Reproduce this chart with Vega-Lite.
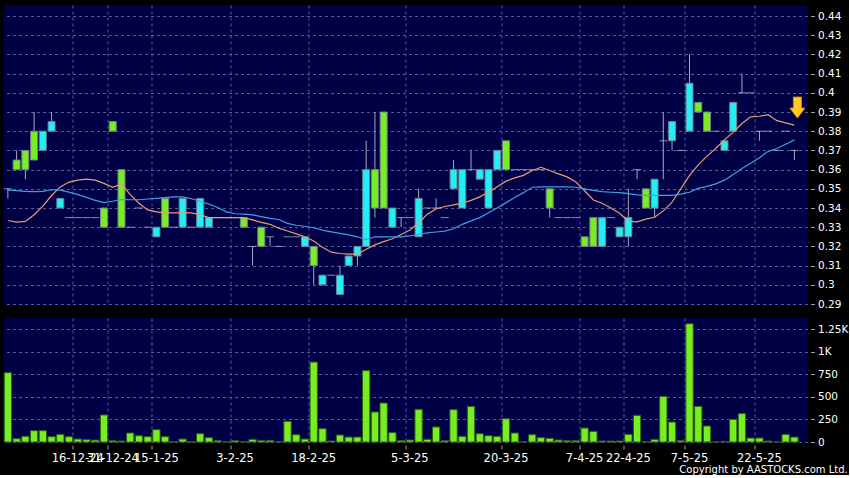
{
  "$schema": "https://vega.github.io/schema/vega-lite/v6.json",
  "background": "#000000",
  "padding": {"left": 3.5, "top": 5, "right": 0, "bottom": 0},
  "spacing": 8,
  "title": {"text": "Copyright by AASTOCKS.com Ltd.", "orient": "bottom", "anchor": "end", "frame": "bounds", "color": "#ffffff", "font": "DejaVu Sans", "fontSize": 10, "fontWeight": "normal", "offset": 1, "baseline": "top"},
  "datasets": {
    "k": [
      {"i":0,"o":0.35,"h":0.35,"l":0.345,"c":0.35,"v":770,"m1":0.3335,"m2":0.3493},
      {"i":1,"o":0.365,"h":0.37,"l":0.36,"c":0.36,"v":37,"m1":0.3326,"m2":0.349},
      {"i":2,"o":0.37,"h":0.37,"l":0.355,"c":0.36,"v":63,"m1":0.333,"m2":0.3487},
      {"i":3,"o":0.38,"h":0.39,"l":0.365,"c":0.365,"v":126,"m1":0.3365,"m2":0.3485},
      {"i":4,"o":0.37,"h":0.38,"l":0.37,"c":0.38,"v":126,"m1":0.341,"m2":0.3487},
      {"i":5,"o":0.38,"h":0.39,"l":0.38,"c":0.385,"v":59,"m1":0.3465,"m2":0.3495},
      {"i":6,"o":0.34,"h":0.345,"l":0.34,"c":0.345,"v":85,"m1":0.351,"m2":0.3493},
      {"i":7,"o":0.335,"h":0.335,"l":0.335,"c":0.335,"v":59,"m1":0.3535,"m2":0.3483},
      {"i":8,"o":0.335,"h":0.335,"l":0.335,"c":0.335,"v":33,"m1":0.3545,"m2":0.347},
      {"i":9,"o":0.335,"h":0.335,"l":0.335,"c":0.335,"v":26,"m1":0.355,"m2":0.3455},
      {"i":10,"o":0.335,"h":0.335,"l":0.335,"c":0.335,"v":22,"m1":0.3545,"m2":0.344},
      {"i":11,"o":0.34,"h":0.34,"l":0.33,"c":0.33,"v":300,"m1":0.3528,"m2":0.3428},
      {"i":12,"o":0.385,"h":0.385,"l":0.38,"c":0.38,"v":15,"m1":0.3508,"m2":0.3435},
      {"i":13,"o":0.36,"h":0.36,"l":0.33,"c":0.33,"v":11,"m1":0.3525,"m2":0.3445},
      {"i":14,"o":0.33,"h":0.33,"l":0.33,"c":0.33,"v":100,"m1":0.347,"m2":0.3443},
      {"i":15,"o":0.34,"h":0.34,"l":0.34,"c":0.34,"v":70,"m1":0.3425,"m2":0.3443},
      {"i":16,"o":0.33,"h":0.33,"l":0.33,"c":0.33,"v":59,"m1":0.339,"m2":0.3447},
      {"i":17,"o":0.325,"h":0.33,"l":0.325,"c":0.33,"v":137,"m1":0.338,"m2":0.345},
      {"i":18,"o":0.345,"h":0.345,"l":0.33,"c":0.33,"v":59,"m1":0.3375,"m2":0.3454},
      {"i":19,"o":0.33,"h":0.33,"l":0.33,"c":0.33,"v":3,"m1":0.3375,"m2":0.3458},
      {"i":20,"o":0.33,"h":0.345,"l":0.33,"c":0.345,"v":33,"m1":0.3375,"m2":0.3458},
      {"i":21,"o":0.33,"h":0.33,"l":0.33,"c":0.33,"v":2,"m1":0.3375,"m2":0.3448},
      {"i":22,"o":0.33,"h":0.345,"l":0.33,"c":0.345,"v":92,"m1":0.3365,"m2":0.3435},
      {"i":23,"o":0.33,"h":0.335,"l":0.33,"c":0.335,"v":48,"m1":0.335,"m2":0.342},
      {"i":24,"o":0.335,"h":0.335,"l":0.335,"c":0.335,"v":15,"m1":0.335,"m2":0.3403},
      {"i":25,"o":0.335,"h":0.335,"l":0.335,"c":0.335,"v":3,"m1":0.335,"m2":0.338},
      {"i":26,"o":0.335,"h":0.335,"l":0.335,"c":0.335,"v":15,"m1":0.335,"m2":0.337},
      {"i":27,"o":0.335,"h":0.335,"l":0.33,"c":0.33,"v":2,"m1":0.335,"m2":0.3368},
      {"i":28,"o":0.32,"h":0.32,"l":0.31,"c":0.32,"v":30,"m1":0.3338,"m2":0.3364},
      {"i":29,"o":0.33,"h":0.33,"l":0.32,"c":0.32,"v":18,"m1":0.3325,"m2":0.3355},
      {"i":30,"o":0.325,"h":0.325,"l":0.32,"c":0.325,"v":18,"m1":0.3315,"m2":0.3346},
      {"i":31,"o":0.32,"h":0.32,"l":0.32,"c":0.32,"v":5,"m1":0.3295,"m2":0.334},
      {"i":32,"o":0.325,"h":0.325,"l":0.325,"c":0.325,"v":230,"m1":0.328,"m2":0.332},
      {"i":33,"o":0.325,"h":0.325,"l":0.325,"c":0.325,"v":81,"m1":0.3265,"m2":0.331},
      {"i":34,"o":0.32,"h":0.325,"l":0.32,"c":0.325,"v":33,"m1":0.325,"m2":0.3305},
      {"i":35,"o":0.32,"h":0.32,"l":0.30,"c":0.31,"v":888,"m1":0.3228,"m2":0.3297},
      {"i":36,"o":0.30,"h":0.305,"l":0.30,"c":0.305,"v":148,"m1":0.3195,"m2":0.3285},
      {"i":37,"o":0.305,"h":0.305,"l":0.305,"c":0.305,"v":11,"m1":0.317,"m2":0.3276},
      {"i":38,"o":0.295,"h":0.31,"l":0.295,"c":0.305,"v":78,"m1":0.3163,"m2":0.3268},
      {"i":39,"o":0.31,"h":0.315,"l":0.31,"c":0.315,"v":55,"m1":0.316,"m2":0.326},
      {"i":40,"o":0.315,"h":0.32,"l":0.31,"c":0.32,"v":55,"m1":0.316,"m2":0.325},
      {"i":41,"o":0.32,"h":0.375,"l":0.32,"c":0.36,"v":792,"m1":0.3185,"m2":0.3235},
      {"i":42,"o":0.36,"h":0.39,"l":0.335,"c":0.34,"v":333,"m1":0.3208,"m2":0.325},
      {"i":43,"o":0.39,"h":0.39,"l":0.34,"c":0.34,"v":433,"m1":0.3225,"m2":0.325},
      {"i":44,"o":0.33,"h":0.34,"l":0.33,"c":0.34,"v":104,"m1":0.324,"m2":0.325},
      {"i":45,"o":0.335,"h":0.335,"l":0.33,"c":0.335,"v":15,"m1":0.3262,"m2":0.325},
      {"i":46,"o":0.335,"h":0.335,"l":0.335,"c":0.335,"v":22,"m1":0.3285,"m2":0.3255},
      {"i":47,"o":0.325,"h":0.35,"l":0.325,"c":0.345,"v":363,"m1":0.3322,"m2":0.3262},
      {"i":48,"o":0.34,"h":0.34,"l":0.34,"c":0.34,"v":30,"m1":0.3368,"m2":0.327},
      {"i":49,"o":0.34,"h":0.345,"l":0.34,"c":0.34,"v":167,"m1":0.3395,"m2":0.3275},
      {"i":50,"o":0.335,"h":0.335,"l":0.335,"c":0.335,"v":15,"m1":0.3408,"m2":0.328},
      {"i":51,"o":0.35,"h":0.365,"l":0.35,"c":0.36,"v":359,"m1":0.3416,"m2":0.3292},
      {"i":52,"o":0.34,"h":0.36,"l":0.34,"c":0.36,"v":63,"m1":0.3425,"m2":0.3315},
      {"i":53,"o":0.36,"h":0.37,"l":0.36,"c":0.36,"v":396,"m1":0.344,"m2":0.3333},
      {"i":54,"o":0.355,"h":0.36,"l":0.355,"c":0.36,"v":92,"m1":0.3458,"m2":0.335},
      {"i":55,"o":0.34,"h":0.36,"l":0.34,"c":0.36,"v":70,"m1":0.3482,"m2":0.3375},
      {"i":56,"o":0.36,"h":0.37,"l":0.36,"c":0.37,"v":63,"m1":0.3511,"m2":0.34},
      {"i":57,"o":0.375,"h":0.375,"l":0.36,"c":0.36,"v":259,"m1":0.354,"m2":0.3428},
      {"i":58,"o":0.36,"h":0.36,"l":0.36,"c":0.36,"v":100,"m1":0.3557,"m2":0.3455},
      {"i":59,"o":0.36,"h":0.36,"l":0.36,"c":0.36,"v":3,"m1":0.357,"m2":0.348},
      {"i":60,"o":0.36,"h":0.36,"l":0.36,"c":0.36,"v":81,"m1":0.3595,"m2":0.3508},
      {"i":61,"o":0.36,"h":0.36,"l":0.36,"c":0.36,"v":48,"m1":0.3612,"m2":0.351},
      {"i":62,"o":0.35,"h":0.35,"l":0.335,"c":0.34,"v":41,"m1":0.3595,"m2":0.351},
      {"i":63,"o":0.335,"h":0.335,"l":0.335,"c":0.335,"v":22,"m1":0.3578,"m2":0.351},
      {"i":64,"o":0.335,"h":0.335,"l":0.335,"c":0.335,"v":15,"m1":0.3562,"m2":0.351},
      {"i":65,"o":0.335,"h":0.335,"l":0.335,"c":0.335,"v":15,"m1":0.3535,"m2":0.3508},
      {"i":66,"o":0.325,"h":0.325,"l":0.32,"c":0.32,"v":155,"m1":0.349,"m2":0.35},
      {"i":67,"o":0.335,"h":0.335,"l":0.32,"c":0.32,"v":118,"m1":0.3442,"m2":0.3492},
      {"i":68,"o":0.32,"h":0.335,"l":0.32,"c":0.335,"v":11,"m1":0.3425,"m2":0.3485},
      {"i":69,"o":0.335,"h":0.335,"l":0.335,"c":0.335,"v":11,"m1":0.34,"m2":0.3482},
      {"i":70,"o":0.325,"h":0.33,"l":0.325,"c":0.33,"v":11,"m1":0.3373,"m2":0.348},
      {"i":71,"o":0.325,"h":0.35,"l":0.32,"c":0.335,"v":85,"m1":0.3332,"m2":0.3475},
      {"i":72,"o":0.36,"h":0.36,"l":0.355,"c":0.36,"v":296,"m1":0.3328,"m2":0.3468},
      {"i":73,"o":0.35,"h":0.35,"l":0.34,"c":0.34,"v":3,"m1":0.3342,"m2":0.3466},
      {"i":74,"o":0.34,"h":0.355,"l":0.335,"c":0.355,"v":30,"m1":0.3352,"m2":0.3466},
      {"i":75,"o":0.375,"h":0.39,"l":0.355,"c":0.375,"v":507,"m1":0.3385,"m2":0.3466},
      {"i":76,"o":0.375,"h":0.385,"l":0.37,"c":0.385,"v":222,"m1":0.343,"m2":0.3466},
      {"i":77,"o":0.37,"h":0.37,"l":0.37,"c":0.37,"v":15,"m1":0.35,"m2":0.3472},
      {"i":78,"o":0.38,"h":0.42,"l":0.38,"c":0.405,"v":1313,"m1":0.357,"m2":0.3482},
      {"i":79,"o":0.395,"h":0.395,"l":0.39,"c":0.39,"v":396,"m1":0.3625,"m2":0.3502},
      {"i":80,"o":0.39,"h":0.39,"l":0.38,"c":0.38,"v":178,"m1":0.367,"m2":0.3513},
      {"i":81,"o":0.38,"h":0.38,"l":0.38,"c":0.38,"v":0,"m1":0.371,"m2":0.3526},
      {"i":82,"o":0.37,"h":0.375,"l":0.37,"c":0.375,"v":7,"m1":0.3755,"m2":0.3545},
      {"i":83,"o":0.38,"h":0.395,"l":0.38,"c":0.395,"v":252,"m1":0.3795,"m2":0.3575},
      {"i":84,"o":0.40,"h":0.41,"l":0.40,"c":0.40,"v":315,"m1":0.384,"m2":0.3606},
      {"i":85,"o":0.40,"h":0.40,"l":0.40,"c":0.40,"v":44,"m1":0.3875,"m2":0.3633},
      {"i":86,"o":0.38,"h":0.38,"l":0.375,"c":0.38,"v":44,"m1":0.3878,"m2":0.3662},
      {"i":87,"o":0.38,"h":0.38,"l":0.38,"c":0.38,"v":11,"m1":0.3886,"m2":0.3695},
      {"i":88,"o":0.37,"h":0.37,"l":0.37,"c":0.37,"v":0,"m1":0.3855,"m2":0.371},
      {"i":89,"o":0.38,"h":0.38,"l":0.38,"c":0.38,"v":85,"m1":0.3843,"m2":0.3732},
      {"i":90,"o":0.37,"h":0.37,"l":0.365,"c":0.37,"v":55,"m1":0.3832,"m2":0.3755}
    ],
    "arrow": [{"i": 90, "p": 0.3923}]
  },
  "vconcat": [
    {
      "width": 804,
      "height": 300,
      "data": {"name": "k"},
      "encoding": {
        "x": {
          "field": "i", "type": "ordinal",
          "scale": {"domain": [0,1,2,3,4,5,6,7,8,9,10,11,12,13,14,15,16,17,18,19,20,21,22,23,24,25,26,27,28,29,30,31,32,33,34,35,36,37,38,39,40,41,42,43,44,45,46,47,48,49,50,51,52,53,54,55,56,57,58,59,60,61,62,63,64,65,66,67,68,69,70,71,72,73,74,75,76,77,78,79,80,81,82,83,84,85,86,87,88,89,90,91], "paddingInner": 0, "paddingOuter": 0},
          "axis": {"values": [8,12,17,26,35,46,57,66,71,78,86], "bandPosition": 0, "labels": false, "ticks": false, "domain": false, "grid": true, "title": null, "offset": 0, "labelPadding": 0, "tickSize": 0}
        }
      },
      "layer": [
        {
          "mark": {"type": "rule", "color": "#a4a8bc", "strokeWidth": 1},
          "encoding": {
            "y": {"field": "l", "type": "quantitative", "scale": {"domain": [0.28948, 0.44573], "nice": false, "zero": false},
              "axis": {"orient": "right", "title": null, "values": [0.29,0.3,0.31,0.32,0.33,0.34,0.35,0.36,0.37,0.38,0.39,0.4,0.41,0.42,0.43,0.44], "tickCount": 40, "format": ".2~f", "grid": true, "domain": false, "offset": 3, "tickSize": 4, "labelPadding": 3, "labelFontSize": 10.5, "labelOverlap": false, "labelBound": false, "labelFlush": false}},
            "y2": {"field": "h"}
          }
        },
        {
          "transform": [{"filter": "datum.o != datum.c"}],
          "mark": {"type": "bar", "width": {"band": 0.8}, "stroke": "#6f7f8f", "strokeWidth": 1},
          "encoding": {
            "y": {"field": "o", "type": "quantitative"},
            "y2": {"field": "c"},
            "fill": {"condition": {"test": "datum.c > datum.o", "value": "#22eef6"}, "value": "#77ee22"}
          }
        },
        {
          "transform": [{"filter": "datum.o == datum.c"}],
          "mark": {"type": "tick", "color": "#c4c6d4", "thickness": 1, "size": 8},
          "encoding": {"y": {"field": "c", "type": "quantitative"}}
        },
        {
          "mark": {"type": "line", "color": "#e99a73", "strokeWidth": 1.2},
          "encoding": {"y": {"field": "m1", "type": "quantitative"}}
        },
        {
          "mark": {"type": "line", "color": "#3d9fe6", "strokeWidth": 1.2},
          "encoding": {"y": {"field": "m2", "type": "quantitative"}}
        },
        {
          "data": {"name": "arrow"},
          "mark": {"type": "point", "shape": "M-0.38,-1L0.38,-1L0.38,0.05L0.72,0.05L0,1L-0.72,0.05L-0.38,0.05Z", "filled": true, "fill": "#ffcc22", "stroke": "#d98a00", "strokeWidth": 1, "size": 441, "opacity": 1, "xOffset": 3},
          "encoding": {"y": {"field": "p", "type": "quantitative"}}
        }
      ]
    },
    {
      "width": 804,
      "height": 124,
      "data": {"name": "k"},
      "mark": {"type": "bar", "width": {"band": 0.84}, "fill": "#77ee22", "stroke": "#2c5c12", "strokeWidth": 1},
      "encoding": {
        "x": {
          "field": "i", "type": "ordinal",
          "scale": {"domain": [0,1,2,3,4,5,6,7,8,9,10,11,12,13,14,15,16,17,18,19,20,21,22,23,24,25,26,27,28,29,30,31,32,33,34,35,36,37,38,39,40,41,42,43,44,45,46,47,48,49,50,51,52,53,54,55,56,57,58,59,60,61,62,63,64,65,66,67,68,69,70,71,72,73,74,75,76,77,78,79,80,81,82,83,84,85,86,87,88,89,90,91], "paddingInner": 0, "paddingOuter": 0},
          "axis": {"values": [8,12,17,26,35,46,57,66,71,78,86], "bandPosition": 0, "labelExpr": "['16-12-24','31-12-24','15-1-25','3-2-25','18-2-25','5-3-25','20-3-25','7-4-25','22-4-25','7-5-25','22-5-25'][indexof([8,12,17,26,35,46,57,66,71,78,86], datum.value)]", "labelAngle": 0, "labelOverlap": false, "labelBound": false, "labelFlush": false, "labelFontSize": 11.5, "tickSize": 4, "offset": 3, "labelPadding": 3, "grid": true, "domain": false, "title": null}
        },
        "y": {
          "field": "v", "type": "quantitative",
          "scale": {"domain": [0, 1377], "nice": false},
          "axis": {"orient": "right", "title": null, "values": [0,250,500,750,1000,1250], "tickCount": 20, "labelExpr": "datum.value >= 1000 ? format(datum.value / 1000, '~g') + 'K' : datum.label", "grid": true, "domain": false, "offset": 3, "tickSize": 4, "labelPadding": 3, "labelFontSize": 10.5, "labelOverlap": false, "labelBound": false, "labelFlush": false}
        }
      }
    }
  ],
  "config": {
    "view": {"fill": "#000046", "stroke": null},
    "axis": {"gridColor": "#5a5a94", "gridDash": [3, 3], "gridWidth": 1, "gridOpacity": 1, "labelColor": "#ffffff", "labelFont": "DejaVu Sans", "tickColor": "#a0a0a0", "domain": false}
  }
}
